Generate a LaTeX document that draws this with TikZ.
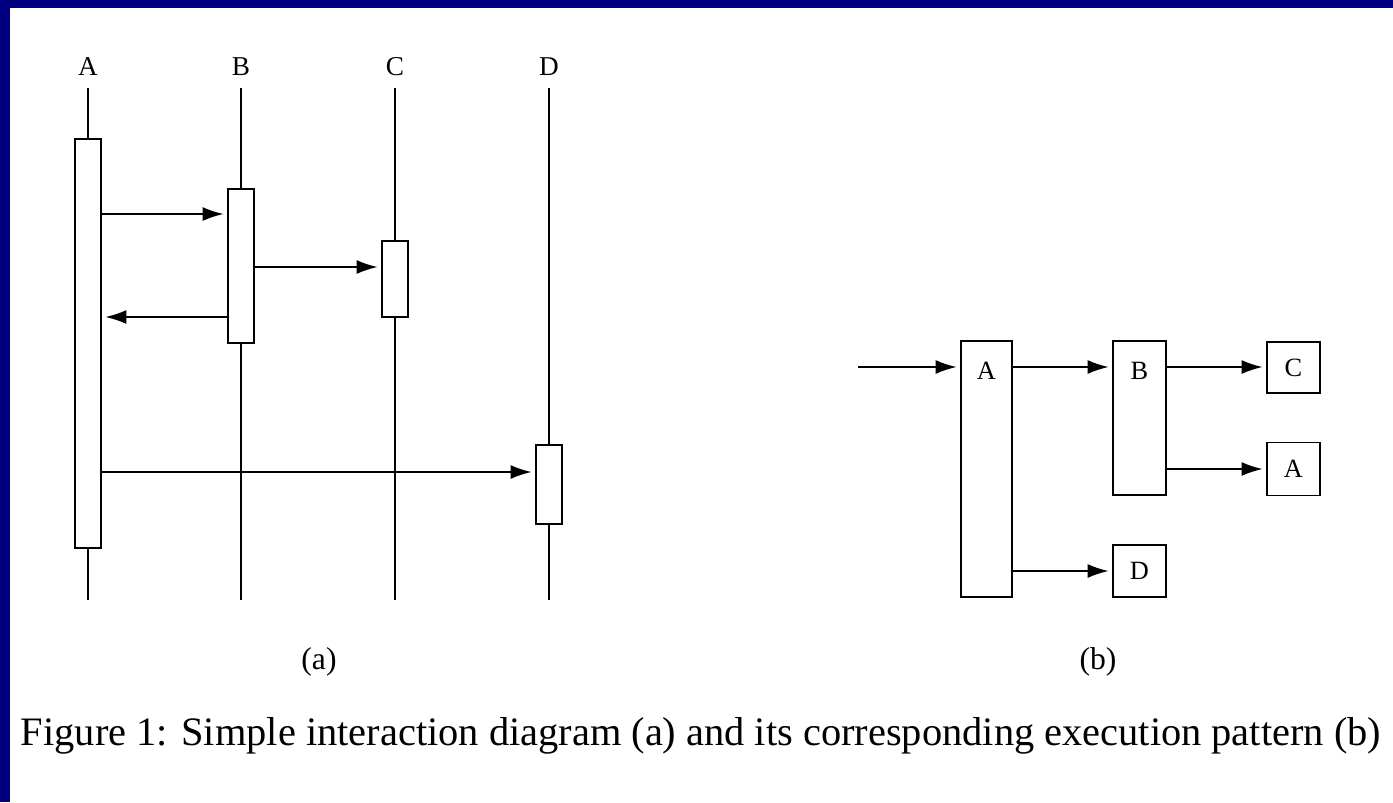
\documentclass[tikz,border=0pt]{standalone}
\usepackage{fontspec}
\setmainfont{Liberation Serif}
\usepackage{xcolor}
\usetikzlibrary{positioning}
\usetikzlibrary{arrows.meta}
\definecolor{framenavy}{RGB}{0,0,128}

\begin{document}
\begin{tikzpicture}[x=0.02cm, y=-0.02cm]
% tikz settings
\tikzstyle{activation} = [rectangle, draw, fill=white, line width=1pt,
    minimum width=0.52cm, inner sep=0pt]
\tikzstyle{execbox} = [rectangle, draw, line width=1pt, inner sep=0pt,
    minimum width=1.06cm, font=\fontsize{15}{18}\selectfont]
\tikzstyle{line} = [draw, line width=1pt, -{Latex[length=12pt,width=8pt]}, shorten >=2pt]
\tikzstyle{lifeline} = [draw, line width=1pt]
\tikzstyle{objname} = [inner sep=0pt, font=\fontsize{15.5}{18}\selectfont]
\tikzstyle{subcap} = [inner sep=0pt, font=\fontsize{18}{22}\selectfont]

% the frame
\useasboundingbox (0,0) rectangle (1393,802);
\fill[white] (0,0) rectangle (1393,802);
\fill[framenavy] (0,0) rectangle (1393,8);
\fill[framenavy] (0,0) rectangle (10,802);

% (a) the interaction diagram
\node [objname] (nameA) at (88,67) {A};
\node [objname] (nameB) at (241,67) {B};
\node [objname] (nameC) at (395,67) {C};
\node [objname] (nameD) at (549,67) {D};

\coordinate (topA) at (88,88);   \coordinate (endA) at (88,600);
\coordinate (topB) at (241,88);  \coordinate (endB) at (241,600);
\coordinate (topC) at (395,88);  \coordinate (endC) at (395,600);
\coordinate (topD) at (549,88);  \coordinate (endD) at (549,600);
\path [lifeline] (topA) -- (endA);
\path [lifeline] (topB) -- (endB);
\path [lifeline] (topC) -- (endC);
\path [lifeline] (topD) -- (endD);

\node [activation, minimum height=8.18cm] (actA) at (88,343.5) {};
\node [activation, minimum height=3.08cm] (actB) at (241,266) {};
\node [activation, minimum height=1.52cm] (actC) at (395,279) {};
\node [activation, minimum height=1.58cm] (actD) at (549,484.5) {};

\path [line] (actA.east |- 0,214) -- (actB.west |- 0,214);
\path [line] (actB.east |- 0,267) -- (actC.west |- 0,267);
\path [line] (actB.west |- 0,317) -- (actA.east |- 0,317);
\path [line] (actA.east |- 0,472) -- (actD.west |- 0,472);

\node [subcap] (capa) at (319,662) {(a)};

% (b) the execution pattern
\node [execbox, minimum width=1.02cm, minimum height=5.12cm,
    label={[anchor=center, yshift=-0.62cm, font=\fontsize{15}{18}\selectfont]north:A}] (execA) at (986.5,469) {};
\node [execbox, minimum height=3.08cm,
    label={[anchor=center, yshift=-0.62cm, font=\fontsize{15}{18}\selectfont]north:B}] (execB) at (1139.5,418) {};
\node [execbox, minimum height=1.02cm] (execC) at (1293.5,367.5) {C};
\node [execbox, minimum height=1.06cm] (execAA) at (1293.5,469) {A};
\node [execbox, minimum height=1.04cm] (execD) at (1139.5,571) {D};

\coordinate (start) at (858,367);
\path [line] (start) -- (execA.west |- start);
\path [line] (execA.east |- start) -- (execB.west |- start);
\path [line] (execB.east |- start) -- (execC.west |- start);
\path [line] (execB.east |- execAA) -- (execAA.west);
\path [line] (execA.east |- execD) -- (execD.west);

\node [subcap] (capb) at (1098,662) {(b)};

% the caption
\node [inner sep=0pt, font=\fontsize{23}{27}\selectfont] (caption) at (701,736)
    {Figure 1: Simple interaction diagram (a) and its corresponding execution pattern (b)};
\end{tikzpicture}
\end{document}
